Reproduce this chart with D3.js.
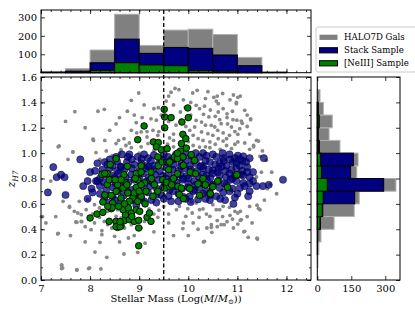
<!DOCTYPE html>
<html>
<head>
<meta charset="utf-8">
<script src="https://d3js.org/d3.v7.min.js"></script>
<style>
  body { margin: 0; background: #fff; }
  svg text { font-family: "DejaVu Serif", serif; }
</style>
</head>
<body>
<div id="chart"></div>
<script>
// ---- data ----
var massTicks = [7, 8, 9, 10, 11, 12];
var zTicks = [0, 0.2, 0.4, 0.6, 0.8, 1.0, 1.2, 1.4, 1.6];
var topCountTicks = [100, 200, 300];
var rightCountTicks = [0, 150, 300];

// mass histogram, bins of 0.5 from 7 to 12.5
var massEdges = [7, 7.5, 8, 8.5, 9, 9.5, 10, 10.5, 11, 11.5, 12, 12.5];
var massHaloCounts  = [7, 22, 123, 317, 148, 231, 236, 207, 83, 5, 0];
var massStackCounts = [3, 8, 54, 182, 105, 137, 132, 96, 38, 2, 0];
var massNeCounts    = [0, 1, 13, 54, 42, 38, 11, 8, 1, 0, 0];

// redshift histogram, bins of 0.1 from 0 to 1.6
var zEdges = [0, 0.1, 0.2, 0.3, 0.4, 0.5, 0.6, 0.7, 0.8, 0.9, 1.0, 1.1, 1.2, 1.3, 1.4, 1.5, 1.6];
var zHaloCounts  = [0, 3, 7, 16, 74, 163, 185, 347, 174, 180, 100, 52, 66, 27, 12, 0];
var zStackCounts = [0, 0, 0, 2, 14, 24, 165, 293, 147, 159, 9, 4, 8, 4, 0, 0];
var zNeCounts    = [0, 0, 1, 0, 12, 22, 26, 44, 19, 15, 6, 2, 7, 3, 0, 0];

// scatter: [log mass, z]
var haloGals = [
  [8.99,1.474],[8.84,1.416],[9.39,1.358],[8.29,1.345],[8.16,1.33],[7.69,1.327],[8.76,1.33],[9.06,1.28],[9.24,1.27],[9.35,1.26],
  [8.53,1.23],[8.94,1.24],[8.84,1.18],[8.06,1.11],[8.69,1.114],[8.58,1.10],[9.04,1.167],[7.37,1.056],[8.12,1.004],[7.65,1.009],
  [8.33,1.017],[8.84,1.043],[8.63,1.027],[8.73,1.06],[9.18,1.075],[9.04,1.05],[8.53,1.075],[9.16,1.127],[9.38,1.14],[9.28,1.18],[9.48,1.206],
  [9.81,1.50],[10.09,1.474],[10.18,1.495],[10.40,1.484],[10.52,1.44],[10.57,1.41],[10.61,1.39],[11.01,1.44],[10.98,1.40],[10.16,1.377],
  [10.33,1.37],[10.23,1.35],[9.84,1.324],[9.94,1.36],[10.71,1.35],[10.61,1.324],[11.15,1.337],[10.31,1.306],[10.42,1.285],[10.64,1.264],
  [10.79,1.28],[10.91,1.264],[11.08,1.253],[11.27,1.264],[10.16,1.258],[10.27,1.245],[10.47,1.219],[10.54,1.206],[10.67,1.232],[10.88,1.206],
  [11.05,1.193],[10.13,1.206],[10.03,1.18],[9.89,1.153],[10.27,1.167],[10.40,1.153],[10.50,1.14],[10.71,1.159],[10.84,1.14],[11.01,1.148],
  [10.20,1.114],[10.30,1.10],[10.44,1.088],[10.61,1.114],[10.71,1.095],[10.78,1.114],[11.01,1.088],[11.15,1.08],[11.39,1.10],[11.33,1.06],
  [10.10,1.06],[10.23,1.048],[10.44,1.043],[10.78,1.06],[10.88,1.035],[11.51,1.017],[11.46,0.975],[11.59,0.943],[11.49,0.85],[11.39,0.812],
  [10.59,1.45],[10.92,1.458],[11.06,1.45],[10.98,1.39],[10.79,1.31],[10.99,1.26],[11.27,1.27],[11.1,1.235],[11.43,1.095],[11.33,1.05],
  [11.67,0.75],[11.61,0.72],[11.40,0.59],[11.13,0.38],[11.40,0.33],[11.43,0.565],[11.20,0.50],[11.06,0.47],[10.31,0.30],[10.48,0.376],
  [10.79,0.46],[10.92,0.41],[10.59,0.42],
  [7.03,0.50],[7.34,0.363],[7.42,0.116],[7.44,0.095],[7.73,0.079],[7.99,0.095],[8.22,0.087],[8.34,0.179],[8.69,0.205],[8.97,0.218],
  [9.12,0.29],[8.20,0.297],[8.24,0.389],[8.24,0.357],[8.02,0.397],[8.78,0.331],[8.50,0.344],[7.68,0.541],[7.75,0.528],[7.82,0.515],
  [7.58,0.573],[7.78,0.62],[7.82,0.462],[7.71,0.457],[7.92,0.554],[8.09,0.45],[8.19,0.494],[8.29,0.462],[8.36,0.436],[8.44,0.41],
  [8.70,0.41],[8.84,0.436],[9.04,0.41],[9.11,0.462],[9.24,0.476],[9.38,0.494],[8.53,0.502],[8.63,0.489],[8.36,0.541],[8.46,0.568],
  [8.56,0.554],[8.09,0.594],[8.19,0.568],[7.95,0.633],
  [9.76,0.554],[9.82,0.581],[9.99,0.562],[9.95,0.502],[9.89,0.405],[10.08,0.528],[10.22,0.494],[10.23,0.554],[10.37,0.52],[10.44,0.502],
  [10.38,0.41],[10.47,0.436],[10.47,0.415],[10.59,0.468],[10.67,0.436],[10.73,0.436],[10.33,0.305],[10.57,0.554],[10.64,0.554],[10.84,0.573],
  [10.95,0.541],[11.01,0.528],[11.06,0.541],[11.01,0.441],[11.08,0.476],[11.15,0.384],[11.22,0.336],[11.41,0.323],[11.46,0.554],[11.66,0.751],
  [10.71,0.581],[10.16,0.607],[10.06,0.615],[10.50,0.594],
  [7.01,0.50],[7.35,1.05],[7.65,1.01],[7.35,0.368],[7.42,0.12],[7.42,0.09],[7.73,0.08],[7.97,0.09],[7.58,0.58],[7.73,0.455],
  [7.83,0.46],[8.07,1.10],[7.10,0.45],
  [9.6,1.45],[9.7,1.38],[9.62,1.12],[9.7,1.15],[9.58,1.07],[9.75,1.22],[9.55,1.41],[9.65,1.48],[9.45,1.30],[9.7,1.05],
  [8.45,0.98],[8.2,0.95],[8.6,1.0],[9.0,1.0],[9.3,1.02],[9.2,0.56],[9.5,0.58],[9.4,0.55],[9.16,1.17],[9.73,1.51],
  [9.9,1.42],[10.05,1.40],[10.35,1.43],[10.7,1.47],[10.85,1.42],[10.45,1.34],[10.9,1.33],[11.2,1.30],[10.05,1.30],[10.55,1.29],
  [9.85,1.26],[10.35,1.22],[10.8,1.23],[11.2,1.21],[9.95,1.21],[10.6,1.18],[10.95,1.17],[11.25,1.15],[10.1,1.14],[9.7,1.10],
  [10.55,1.07],[10.95,1.07],[11.25,1.03],[10.65,1.03],[10.35,1.05],[9.9,1.05],[10.0,1.09],[9.6,1.25],[9.3,1.35],[9.1,1.38],
  [8.9,1.30],[8.6,1.28],[8.4,1.18],[8.3,1.10],[8.8,1.08],[8.95,1.16],[9.4,1.17],[7.5,1.25],[7.9,1.20],[7.55,0.95],
  [7.3,0.5],[7.6,0.35],[7.9,0.3],[8.1,0.22],[8.6,0.30],[8.9,0.35],[9.3,0.38],[9.6,0.45],[9.7,0.35],[10.1,0.45],
  [10.0,0.35],[10.2,0.40],[10.7,0.50],[10.9,0.48],[11.3,0.45],[11.55,0.63],[11.7,0.85],[11.8,0.68],[9.3,0.52],[9.6,0.52],
  [10.3,0.56],[10.85,0.51],[11.25,0.58],[9.9,0.45],[8.05,0.52],[7.9,0.42],[7.45,0.62],[7.2,0.78]
];

var stackGals = [
  [7.14,0.69],[7.25,0.89],[7.32,0.81],[7.41,0.83],[7.48,0.81],[7.50,0.67],[7.80,0.95],[7.86,0.74],[7.95,0.78],[7.95,0.64],
  [8.03,0.72],[8.0,0.85],[8.12,0.78],[8.05,0.69],[11.93,0.79],[11.54,0.96],[11.64,0.75],[10.92,0.60],[11.52,0.74],[11.39,0.74],
  [11.25,0.70],[11.32,0.85],[11.25,0.81],
  [8.53,0.97],[8.77,0.97],[8.97,0.97],[9.18,0.96],[9.59,0.97],[9.89,0.97],[10.06,0.98],[10.23,0.97],[10.37,0.98],[10.57,0.97],
  [10.71,0.96],[10.84,0.99],[11.01,0.98],[11.12,0.975],[8.65,0.99],[9.3,0.985],[9.75,0.99],[10.15,1.0],[10.5,0.99],[10.95,0.96],
  [9.05,0.955],[9.45,0.95],[8.85,0.95],
  [8.46,0.90],[8.63,0.89],[9.04,0.92],[9.24,0.94],[9.86,0.92],[10.03,0.90],[10.16,0.92],[10.30,0.90],[10.44,0.93],[10.64,0.92],
  [10.78,0.90],[10.91,0.93],[11.05,0.90],[11.18,0.93],[8.35,0.91],[8.75,0.93],[8.9,0.91],[9.15,0.90],[9.4,0.92],[9.55,0.93],
  [9.7,0.91],[9.95,0.94],[10.1,0.945],[10.35,0.94],[10.55,0.91],[10.72,0.94],[10.98,0.92],[11.1,0.94],[8.55,0.935],[9.65,0.945],
  [8.25,0.87],[8.4,0.88],[8.55,0.86],[8.7,0.87],[8.85,0.88],[9.0,0.86],[9.12,0.88],[9.28,0.87],[9.42,0.86],[9.55,0.885],
  [9.68,0.87],[9.8,0.86],[9.93,0.88],[10.05,0.87],[10.18,0.86],[10.3,0.88],[10.42,0.87],[10.5,0.865],[10.62,0.88],[10.75,0.86],
  [10.88,0.87],[10.98,0.88],[11.1,0.86],[8.62,0.895],[9.2,0.895],[9.85,0.895],[10.25,0.895],[10.68,0.895],[11.2,0.89],
  [8.3,0.83],[8.45,0.82],[8.58,0.84],[8.72,0.81],[8.84,0.83],[8.95,0.82],[9.08,0.84],[9.2,0.81],[9.33,0.83],[9.48,0.82],
  [9.6,0.84],[9.72,0.81],[9.84,0.83],[9.97,0.82],[10.1,0.84],[10.22,0.81],[10.37,0.825],[10.5,0.84],[10.64,0.825],[10.77,0.81],
  [10.84,0.84],[10.95,0.82],[11.07,0.83],[11.12,0.825],[8.2,0.80],[8.5,0.805],[9.0,0.80],[9.55,0.80],[10.0,0.80],[10.45,0.805],[10.9,0.80],
  [8.28,0.77],[8.4,0.79],[8.52,0.76],[8.65,0.78],[8.78,0.77],[8.9,0.79],[9.03,0.76],[9.15,0.78],[9.27,0.77],[9.4,0.79],
  [9.52,0.76],[9.64,0.78],[9.76,0.77],[9.88,0.79],[10.0,0.76],[10.12,0.78],[10.25,0.77],[10.38,0.79],[10.5,0.75],[10.62,0.78],
  [10.74,0.76],[10.86,0.79],[10.98,0.78],[11.12,0.765],[11.32,0.78],[8.15,0.78],
  [8.33,0.71],[8.47,0.73],[8.6,0.72],[8.73,0.74],[8.86,0.71],[8.97,0.73],[9.1,0.72],[9.23,0.74],[9.36,0.72],[9.49,0.73],
  [9.62,0.71],[9.74,0.74],[9.87,0.72],[10.0,0.73],[10.13,0.71],[10.23,0.725],[10.37,0.70],[10.5,0.75],[10.64,0.725],[10.78,0.75],
  [10.9,0.72],[11.05,0.725],[11.15,0.74],[8.2,0.74],
  [8.29,0.65],[8.46,0.66],[8.56,0.70],[8.77,0.69],[8.97,0.68],[9.18,0.69],[9.35,0.67],[9.45,0.67],[9.69,0.70],[9.8,0.68],
  [10.03,0.66],[10.10,0.70],[10.3,0.68],[10.57,0.66],[10.71,0.69],[10.84,0.70],[9.0,0.66],[9.6,0.66],[10.45,0.67],[11.0,0.68],
  [8.68,0.665],[9.9,0.655],
  [8.36,0.61],[8.63,0.62],[8.70,0.58],[8.94,0.59],[9.04,0.645],[10.44,0.63],[9.25,0.63],[9.8,0.62],[10.2,0.635],[10.65,0.64],
  [9.5,0.64],[8.85,0.63],[10.05,0.615],
  [8.4,0.95],[8.8,0.99],[9.1,0.99],[9.5,0.99],[9.95,1.0],[10.3,1.0],[10.7,1.0],[11.05,0.95],[11.25,0.96],[8.3,0.93],
  [11.2,0.85],[11.25,0.76],[11.22,0.66],[10.95,0.65],[10.75,0.63],[10.35,0.64],[9.95,0.64],[9.65,0.62],[9.35,0.61],[9.1,0.62],
  [8.5,0.63],[8.2,0.68],[8.1,0.86],[8.15,0.92],[9.3,0.90],[9.9,0.80],[10.15,0.75],[10.6,0.85],[10.3,0.83],[9.7,0.95],[10.85,0.95]
];

var neGals = [
  [9.51,1.345],[9.52,1.285],[9.52,1.20],[9.10,1.214],[8.97,1.106],[9.29,1.088],[9.39,1.083],[9.35,1.05],[9.45,1.027],[9.57,1.035],
  [9.38,0.97],[8.53,0.956],[8.41,0.91],[8.76,0.896],[9.04,0.90],[9.39,0.90],[9.62,0.93],[9.24,0.85],[8.24,0.833],[8.35,0.84],
  [8.69,0.83],[8.94,0.84],[9.04,0.85],[9.72,0.97],[9.65,1.28],[9.99,1.356],[10.0,1.28],[9.87,1.245],[9.89,1.148],[9.95,1.114],
  [9.86,1.075],[9.96,1.04],[9.84,1.017],[10.06,0.988],[9.89,0.97],[9.78,0.956],[10.13,0.943],[9.90,0.904],[10.04,0.85],[10.15,0.838],
  [9.78,0.838],[10.98,0.825],
  [8.0,0.489],[8.14,0.52],[8.26,0.533],[8.26,0.615],[8.43,0.562],[8.39,0.462],[8.56,0.415],[8.63,0.428],[8.53,0.462],[8.70,0.468],
  [8.80,0.476],[8.90,0.462],[8.99,0.41],[8.99,0.47],[9.16,0.494],[9.24,0.462],[9.21,0.528],[8.99,0.27],[8.72,0.515],[8.84,0.528],
  [8.67,0.554],[8.78,0.568],[8.94,0.554],[9.01,0.541],[8.43,0.667],[8.53,0.699],[8.67,0.725],[8.77,0.686],[8.87,0.646],[8.97,0.62],
  [9.04,0.66],[8.80,0.62],[8.63,0.646],[8.35,0.751],[8.56,0.751],[8.73,0.765],[8.94,0.73],[9.11,0.765],[9.28,0.66],[9.38,0.699],
  [9.52,0.725],[9.62,0.738],[9.48,0.79],[9.31,0.751],[9.04,0.751],[8.90,0.686],[8.46,0.607],[8.58,0.581],[8.39,0.79],[8.63,0.79],
  [8.97,0.79],[9.14,0.699],
  [9.79,0.738],[9.86,0.725],[10.03,0.72],[10.2,0.757],[10.33,0.751],[10.49,0.733],[10.44,0.686],[10.23,0.667],[9.82,0.672],[9.90,0.641],
  [8.53,0.42],[8.61,0.42],[8.61,0.46],[8.30,0.84],[8.51,0.79],[8.92,0.80],[8.45,0.57],[8.3,0.67],[8.36,0.58],[8.7,0.60],
  [8.85,0.50],[9.12,0.60],[9.0,0.70],[8.75,0.75],[9.25,0.80],[9.55,0.77],[9.7,0.80],[9.6,0.87],[9.47,0.93],[9.78,1.0],
  [9.66,0.75],[10.6,0.78],[10.8,0.73],[10.3,0.8],[10.99,0.83],[10.35,0.75],[10.50,0.735],[10.45,0.68]
];

var cutMass = 9.5;

// ---- layout ----
var svg = d3.select("#chart").append("svg")
    .attr("width", 415).attr("height", 311);

var x = d3.scaleLinear().domain([7, 12.5]).range([41, 311]);
var y = d3.scaleLinear().domain([0, 1.6]).range([280, 77]);
var yTop = d3.scaleLinear().domain([0, 340]).range([72.7, 10]);
var xRight = d3.scaleLinear().domain([0, 365]).range([317.3, 400]);

var haloCol = "#808080", stackCol = "#000080", neCol = "#008000";

// ---- top histogram ----
function topBars(counts, fill, stroke) {
  svg.append("g").selectAll("rect")
    .data(counts)
    .enter().append("rect")
    .attr("x", function(d, i) { return x(massEdges[i]); })
    .attr("width", function(d, i) { return x(massEdges[i + 1]) - x(massEdges[i]); })
    .attr("y", function(d) { return yTop(d); })
    .attr("height", function(d) { return yTop(0) - yTop(d); })
    .attr("fill", fill)
    .attr("stroke", function(d) { return d > 0 ? stroke : "none"; })
    .attr("stroke-width", 1);
}
topBars(massHaloCounts, haloCol, "#b0b0b0");
topBars(massStackCounts, stackCol, "#000");
topBars(massNeCounts, neCol, "#000");

// ---- right histogram ----
function rightBars(counts, fill, stroke) {
  svg.append("g").selectAll("rect")
    .data(counts)
    .enter().append("rect")
    .attr("x", xRight(0))
    .attr("width", function(d) { return xRight(d) - xRight(0); })
    .attr("y", function(d, i) { return y(zEdges[i + 1]); })
    .attr("height", function(d, i) { return y(zEdges[i]) - y(zEdges[i + 1]); })
    .attr("fill", fill)
    .attr("stroke", function(d) { return d > 0 ? stroke : "none"; })
    .attr("stroke-width", 1);
}
rightBars(zHaloCounts, haloCol, "#b0b0b0");
rightBars(zStackCounts, stackCol, "#000");
rightBars(zNeCounts, neCol, "#000");

// ---- scatter ----
svg.append("g").selectAll("circle")
  .data(haloGals).enter().append("circle")
  .attr("cx", function(d) { return x(d[0]); })
  .attr("cy", function(d) { return y(d[1]); })
  .attr("r", 1.9)
  .attr("fill", "#888");

svg.append("g").selectAll("circle")
  .data(stackGals).enter().append("circle")
  .attr("cx", function(d) { return x(d[0]); })
  .attr("cy", function(d) { return y(d[1]); })
  .attr("r", 3.6)
  .attr("fill", stackCol).attr("fill-opacity", 0.75)
  .attr("stroke", "#000030").attr("stroke-opacity", 0.7).attr("stroke-width", 0.7);

svg.append("g").selectAll("circle")
  .data(neGals).enter().append("circle")
  .attr("cx", function(d) { return x(d[0]); })
  .attr("cy", function(d) { return y(d[1]); })
  .attr("r", 3.3)
  .attr("fill", neCol)
  .attr("stroke", "#000").attr("stroke-width", 0.9);

// dashed mass cut
svg.append("line")
  .attr("x1", x(cutMass)).attr("x2", x(cutMass))
  .attr("y1", 10).attr("y2", 280)
  .attr("stroke", "#000").attr("stroke-width", 1.3)
  .attr("stroke-dasharray", "4,2.5");

// ---- axes ----
function styleAxis(g) {
  g.select(".domain").remove();
  g.attr("font-family", "DejaVu Serif").attr("font-size", 10);
  g.selectAll("text").attr("fill", "#000");
  g.selectAll("line").attr("stroke", "#000").attr("stroke-width", 0.8);
}
function addAxis(tr, axis) {
  svg.append("g").attr("transform", tr).call(axis).call(styleAxis);
}
var minorMass = d3.range(35, 63).map(function(v) { return v / 5; });
var minorZ = d3.range(0, 17).map(function(v) { return v / 10; });

// main panel
addAxis("translate(0,280)", d3.axisBottom(x).tickValues(massTicks).tickSize(-4).tickPadding(5).tickFormat(d3.format("d")));
addAxis("translate(0,280)", d3.axisBottom(x).tickValues(minorMass).tickSize(-2).tickFormat(""));
addAxis("translate(0,77)", d3.axisTop(x).tickValues(massTicks).tickSize(-4).tickFormat(""));
addAxis("translate(0,77)", d3.axisTop(x).tickValues(minorMass).tickSize(-2).tickFormat(""));
addAxis("translate(41,0)", d3.axisLeft(y).tickValues(zTicks).tickSize(-4).tickPadding(4).tickFormat(d3.format(".1f")));
addAxis("translate(41,0)", d3.axisLeft(y).tickValues(minorZ).tickSize(-2).tickFormat(""));
addAxis("translate(311,0)", d3.axisRight(y).tickValues(zTicks).tickSize(-4).tickFormat(""));
addAxis("translate(311,0)", d3.axisRight(y).tickValues(minorZ).tickSize(-2).tickFormat(""));

// top histogram
addAxis("translate(0,72.7)", d3.axisBottom(x).tickValues(massTicks).tickSize(-4).tickFormat(""));
addAxis("translate(0,72.7)", d3.axisBottom(x).tickValues(minorMass).tickSize(-2).tickFormat(""));
addAxis("translate(0,10)", d3.axisTop(x).tickValues(massTicks).tickSize(-4).tickFormat(""));
addAxis("translate(0,10)", d3.axisTop(x).tickValues(minorMass).tickSize(-2).tickFormat(""));
addAxis("translate(41,0)", d3.axisLeft(yTop).tickValues(topCountTicks).tickSize(-4).tickPadding(4));
addAxis("translate(311,0)", d3.axisRight(yTop).tickValues(topCountTicks).tickSize(-4).tickFormat(""));

// right histogram
addAxis("translate(0,280)", d3.axisBottom(xRight).tickValues(rightCountTicks).tickSize(-4).tickPadding(5));
addAxis("translate(0,77)", d3.axisTop(xRight).tickValues(rightCountTicks).tickSize(-4).tickFormat(""));
addAxis("translate(400,0)", d3.axisRight(y).tickValues(zTicks).tickSize(-4).tickFormat(""));

// frames
[[41, 10, 270, 62.7], [41, 77, 270, 203], [317.3, 77, 82.7, 203]].forEach(function(b) {
  svg.append("rect").attr("x", b[0]).attr("y", b[1]).attr("width", b[2]).attr("height", b[3])
    .attr("fill", "none").attr("stroke", "#000").attr("stroke-width", 1);
});

// axis labels
var xl = svg.append("text").attr("x", 176).attr("y", 302).attr("text-anchor", "middle")
  .attr("font-size", 10).attr("fill", "#000");
xl.append("tspan").text("Stellar Mass (Log(");
xl.append("tspan").attr("font-style", "italic").text("M");
xl.append("tspan").text("/");
xl.append("tspan").attr("font-style", "italic").text("M");
xl.append("tspan").attr("font-size", 7).attr("dy", 2).text("\u2299");
xl.append("tspan").attr("dy", -2).text("))");

var yl = svg.append("text").attr("transform", "translate(15,179) rotate(-90)")
  .attr("text-anchor", "middle").attr("font-size", 11).attr("fill", "#000").attr("font-style", "italic");
yl.append("tspan").text("z");
yl.append("tspan").attr("font-size", 7.5).attr("dy", 2.5).text("H7");

// legend
svg.append("rect").attr("x", 316).attr("y", 27).attr("width", 120).attr("height", 45)
  .attr("rx", 2).attr("fill", "#fff").attr("stroke", "#ccc").attr("stroke-width", 1);
var legendItems = [
  { label: "HALO7D Gals", fill: haloCol, stroke: "none" },
  { label: "Stack Sample", fill: stackCol, stroke: "#000" },
  { label: "[NeIII] Sample", fill: neCol, stroke: "#000" }
];
legendItems.forEach(function(d, i) {
  var cy = 37.3 + i * 13;
  svg.append("rect").attr("x", 319.5).attr("y", cy - 2.6).attr("width", 18).attr("height", 5.2)
    .attr("fill", d.fill).attr("stroke", d.stroke).attr("stroke-width", 1);
  svg.append("text").attr("x", 344).attr("y", cy + 3).attr("font-size", 8.6).attr("fill", "#000").text(d.label);
});
</script>
</body>
</html>
